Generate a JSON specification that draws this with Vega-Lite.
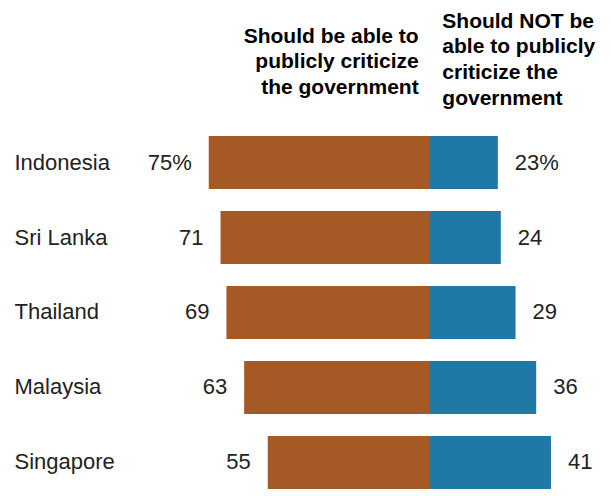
{
  "$schema": "https://vega.github.io/schema/vega-lite/v6.json",
  "width": 611,
  "height": 373,
  "autosize": "none",
  "padding": {"left": 0, "right": 0, "top": 123, "bottom": 0},
  "background": "white",
  "config": {"view": {"stroke": null}, "font": "Liberation Sans"},
  "data": {"values": [
    {"country": "Indonesia", "side": "left", "value": 75, "label": "75%"},
    {"country": "Sri Lanka", "side": "left", "value": 71, "label": "71"},
    {"country": "Thailand", "side": "left", "value": 69, "label": "69"},
    {"country": "Malaysia", "side": "left", "value": 63, "label": "63"},
    {"country": "Singapore", "side": "left", "value": 55, "label": "55"},
    {"country": "Indonesia", "side": "right", "value": 23, "label": "23%"},
    {"country": "Sri Lanka", "side": "right", "value": 24, "label": "24"},
    {"country": "Thailand", "side": "right", "value": 29, "label": "29"},
    {"country": "Malaysia", "side": "right", "value": 36, "label": "36"},
    {"country": "Singapore", "side": "right", "value": 41, "label": "41"}
  ]},
  "transform": [{"calculate": "datum.side == 'left' ? -datum.value : datum.value", "as": "pos"}],
  "encoding": {
    "y": {
      "field": "country", "type": "nominal",
      "sort": ["Indonesia", "Sri Lanka", "Thailand", "Malaysia", "Singapore"],
      "scale": {"paddingInner": 0.293, "paddingOuter": 0.1333, "align": 0.65},
      "axis": {
        "orient": "left", "title": null, "ticks": false, "domain": false, "grid": false,
        "labelAlign": "left", "labelPadding": -14, "labelFontSize": 22,
        "labelColor": "#222222", "labelFont": "Liberation Sans", "labelBaseline": "middle"
      }
    }
  },
  "layer": [
    {
      "mark": {"type": "bar"},
      "encoding": {
        "x": {
          "field": "pos", "type": "quantitative",
          "scale": {"domain": [-145.763, 61.356], "nice": false, "zero": false},
          "axis": {
            "orient": "top", "title": null, "values": [-4, 4],
            "ticks": false, "domain": false, "grid": false,
            "labelExpr": "datum.value < 0 ? ['Should be able to', 'publicly criticize', 'the government'] : ['Should NOT be', 'able to publicly', 'criticize the', 'government']",
            "labelAlign": {"condition": {"test": "datum.value < 0", "value": "right"}, "value": "left"},
            "labelPadding": {"condition": {"test": "datum.value < 0", "value": 80.7}, "value": 95.7},
            "labelBaseline": "alphabetic",
            "labelFont": "Liberation Sans", "labelFontWeight": "bold", "labelFontSize": 21,
            "labelLineHeight": 25.7, "labelColor": "#000000",
            "labelOverlap": false, "labelFlush": false, "labelBound": false,
            "encode": {"labels": {"update": {"lineHeight": {"value": 25.7}}}}
          }
        },
        "x2": {"datum": 0},
        "color": {
          "field": "side", "type": "nominal",
          "scale": {"domain": ["left", "right"], "range": ["#A55A26", "#1F78A5"]},
          "legend": null
        }
      }
    },
    {
      "mark": {"type": "rule", "color": "#7D8A3A", "strokeWidth": 2},
      "encoding": {"x": {"datum": 0}}
    },
    {
      "transform": [{"filter": "datum.side == 'left'"}],
      "mark": {"type": "text", "align": "right", "baseline": "middle", "dx": -17, "fontSize": 22, "color": "#222222", "font": "Liberation Sans"},
      "encoding": {"x": {"field": "pos", "type": "quantitative"}, "text": {"field": "label"}}
    },
    {
      "transform": [{"filter": "datum.side == 'right'"}],
      "mark": {"type": "text", "align": "left", "baseline": "middle", "dx": 17, "fontSize": 22, "color": "#222222", "font": "Liberation Sans"},
      "encoding": {"x": {"field": "pos", "type": "quantitative"}, "text": {"field": "label"}}
    }
  ]
}
